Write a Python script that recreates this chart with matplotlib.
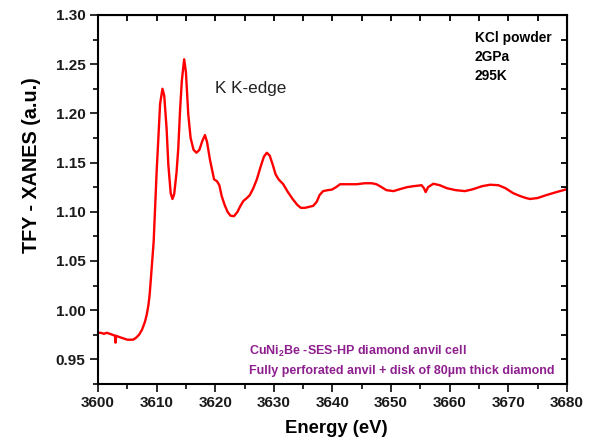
import matplotlib
matplotlib.use("Agg")
import matplotlib.pyplot as plt
from matplotlib.ticker import MultipleLocator, FormatStrFormatter

plt.rcParams['font.family'] = ['Liberation Sans', 'DejaVu Sans']
plt.rcParams['mathtext.fontset'] = 'custom'
plt.rcParams['mathtext.rm'] = 'Liberation Sans:bold'
plt.rcParams['mathtext.bf'] = 'Liberation Sans:bold'

energy = [3600.0, 3600.5, 3601.0, 3601.5, 3602.0, 3602.5, 3602.9, 3603.0, 3603.1,
          3603.5, 3604.0, 3604.5, 3605.0, 3605.5, 3606.0, 3606.5, 3607.0, 3607.5,
          3608.0, 3608.3, 3608.6, 3608.8, 3609.0, 3609.5, 3610.0, 3610.3, 3610.6,
          3611.0, 3611.3, 3611.7, 3612.0, 3612.4, 3612.7, 3613.0, 3613.4, 3613.7,
          3614.0, 3614.3, 3614.7, 3615.0, 3615.4, 3615.8, 3616.3, 3616.8, 3617.3,
          3617.8, 3618.25, 3618.6, 3619.1, 3619.8, 3620.3, 3620.7, 3621.1, 3621.6,
          3622.1, 3622.6, 3623.2, 3623.8, 3624.3, 3624.8, 3625.4, 3625.9, 3626.5,
          3627.1, 3627.7, 3628.3, 3628.8, 3629.3, 3629.8, 3630.3, 3630.8, 3631.6,
          3632.4, 3633.2, 3634.0, 3634.6, 3635.3, 3636.0, 3636.7, 3637.3, 3637.8,
          3638.4, 3639.2, 3639.9, 3640.6, 3641.3, 3642.5, 3644.1, 3645.5, 3646.7,
          3647.5, 3648.1, 3649.2, 3650.4, 3651.5, 3652.7, 3653.8, 3655.2, 3655.6,
          3655.9, 3656.3, 3657.2, 3658.3, 3659.5, 3661.0, 3662.6, 3664.0, 3665.5,
          3666.9, 3668.3, 3669.5, 3670.8, 3672.0, 3673.0, 3673.7, 3675.0, 3676.5,
          3678.2, 3680.0]
tfy = [0.977, 0.977, 0.976, 0.977, 0.976, 0.975, 0.974, 0.967, 0.974,
       0.973, 0.972, 0.971, 0.970, 0.970, 0.970, 0.972, 0.975, 0.980,
       0.988, 0.995, 1.005, 1.015, 1.030, 1.070, 1.140, 1.175, 1.210,
       1.225, 1.218, 1.185, 1.148, 1.119, 1.113, 1.118, 1.140, 1.165,
       1.203, 1.233, 1.255, 1.242, 1.199, 1.175, 1.163, 1.160, 1.163,
       1.172, 1.178, 1.171, 1.153, 1.133, 1.131, 1.127, 1.116, 1.107,
       1.100, 1.096, 1.0955, 1.100, 1.106, 1.111, 1.114, 1.117, 1.124,
       1.133, 1.145, 1.156, 1.160, 1.157, 1.148, 1.138, 1.133, 1.128,
       1.120, 1.113, 1.107, 1.104, 1.104, 1.105, 1.106, 1.110, 1.117,
       1.121, 1.122, 1.1225, 1.125, 1.128, 1.128, 1.128, 1.129, 1.129,
       1.128, 1.126, 1.122, 1.121, 1.123, 1.125, 1.126, 1.127, 1.124,
       1.120, 1.125, 1.1285, 1.127, 1.124, 1.122, 1.121, 1.123, 1.126,
       1.1275, 1.127, 1.124, 1.119, 1.116, 1.114, 1.113, 1.114, 1.117,
       1.120, 1.123]

edge_label = "K K-edge"
sample_lines = ["KCl powder", "2GPa", "295K"]
cell_lines = [r"CuNi$_{\mathbf{2}}$Be -SES-HP diamond anvil cell",
              "Fully perforated anvil + disk of 80µm thick diamond"]

fig = plt.figure(figsize=(5.96, 4.41), dpi=100)
ax = fig.add_axes([0.1644, 0.1293, 0.9513 - 0.1644, 0.966 - 0.1293])
ax.plot(energy, tfy, color='#ff0000', lw=1.7)

ax.set_xlim(3600, 3680)
ax.set_ylim(0.925, 1.30)
ax.xaxis.set_major_locator(MultipleLocator(10))
ax.xaxis.set_minor_locator(MultipleLocator(5))
ax.yaxis.set_major_locator(MultipleLocator(0.05))
ax.yaxis.set_minor_locator(MultipleLocator(0.025))
ax.yaxis.set_major_formatter(FormatStrFormatter('%.2f'))

for s in ax.spines.values():
    s.set_linewidth(1.5)
ax.tick_params(which='both', direction='out', width=1.3, top=False, right=False,
               colors='#1a1a1a')
ax.tick_params(which='major', length=6, labelsize=11, pad=3)
ax.tick_params(which='minor', length=3.5)
for lab in ax.get_xticklabels() + ax.get_yticklabels():
    lab.set_fontweight('bold')

# mirrored inward ticks on top and right
axt = ax.secondary_xaxis('top')
axt.xaxis.set_major_locator(MultipleLocator(5))
axt.tick_params(direction='in', length=4, width=1.3, labeltop=False)
axr = ax.secondary_yaxis('right')
axr.yaxis.set_major_locator(MultipleLocator(0.025))
axr.tick_params(direction='in', length=4, width=1.3, labelright=False)

ax.set_xlabel("Energy (eV)", fontsize=13.3, fontweight='bold', va='center')
ax.set_ylabel("TFY - XANES (a.u.)", fontsize=14.2, fontweight='bold', va='center')
ax.xaxis.set_label_coords(0.508, -0.122)
ax.yaxis.set_label_coords(-0.1407, 0.592)

ax.text(3619.96, 1.225, edge_label, fontsize=12.3, ha='left', va='center', color='#222222')
for i, t in enumerate(sample_lines):
    ax.text(3664.3, 1.277 - i * 0.0193, t, fontsize=9.9, fontweight='bold',
            ha='left', va='center')
for i, t in enumerate(cell_lines):
    ax.text(3625.8, 0.958 - i * 0.0203, t, fontsize=9, fontweight='bold',
            ha='left', va='center', color='#8e1f8e')

fig.savefig("out.png", dpi=100)
